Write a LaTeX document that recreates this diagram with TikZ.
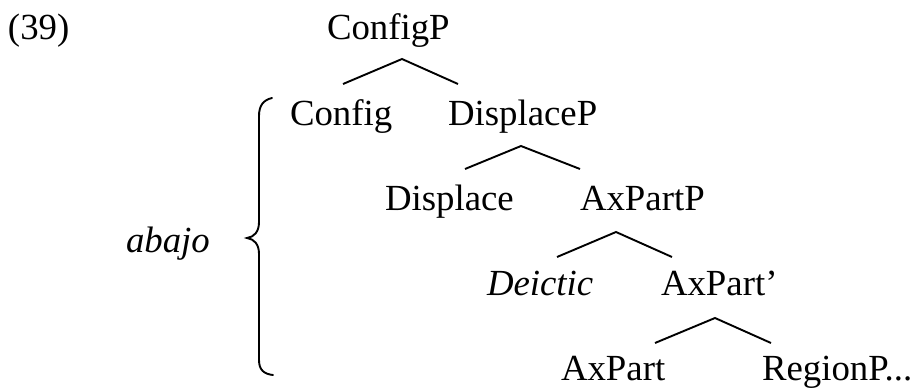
\documentclass[tikz,border=0pt]{standalone}
\usepackage{fontspec}
\setmainfont{Liberation Serif}
\begin{document}
\begin{tikzpicture}[x=1pt,y=-1pt,
  lbl/.style={anchor=base west,inner sep=0pt,outer sep=0pt,font=\fontsize{36.8}{40}\selectfont},
  branch/.style={line width=1.9pt,line join=miter},
  bracket/.style={line width=1.9pt,line cap=round}]
\useasboundingbox (0,0) rectangle (921,388);

% labels
\node[lbl] (ex) at (8,39) {(39)};
\node[lbl] (configP) at (327,39) {ConfigP};
\node[lbl] (config) at (290,125) {Config};
\node[lbl] (displaceP) at (448,125) {DisplaceP};
\node[lbl] (displace) at (385,210) {Displace};
\node[lbl] (axpartP) at (580,210) {AxPartP};
\node[lbl] (deictic) at (487,295) {\itshape Deictic};
\node[lbl] (axpartbar) at (661,295) {AxPart’};
\node[lbl] (axpart) at (561,380) {AxPart};
\node[lbl] (regionP) at (762,380) {RegionP...};
\node[lbl] (abajo) at (126,252) {\itshape abajo};

% branch points
\coordinate (t1) at (402,59);  \coordinate (l1) at (343,84);  \coordinate (r1) at (458,84);
\coordinate (t2) at (521,146); \coordinate (l2) at (465,169); \coordinate (r2) at (580,169);
\coordinate (t3) at (616,232); \coordinate (l3) at (557,257); \coordinate (r3) at (672,257);
\coordinate (t4) at (715,318); \coordinate (l4) at (655,343); \coordinate (r4) at (771,343);

\draw[branch] (l1) -- (t1) -- (r1);
\draw[branch] (l2) -- (t2) -- (r2);
\draw[branch] (l3) -- (t3) -- (r3);
\draw[branch] (l4) -- (t4) -- (r4);

% curly brace spanning the lower levels
\coordinate (btop) at (272,98);
\coordinate (bmid) at (247,238);
\coordinate (bbot) at (273,375);
\draw[bracket] (btop) .. controls (263,100) and (259,106) .. (259,116)
  -- (259,222) .. controls (259,232) and (254,237) .. (bmid)
  .. controls (254,239) and (259,244) .. (259,254)
  -- (259,360) .. controls (259,370) and (264,374) .. (bbot);
\end{tikzpicture}
\end{document}
